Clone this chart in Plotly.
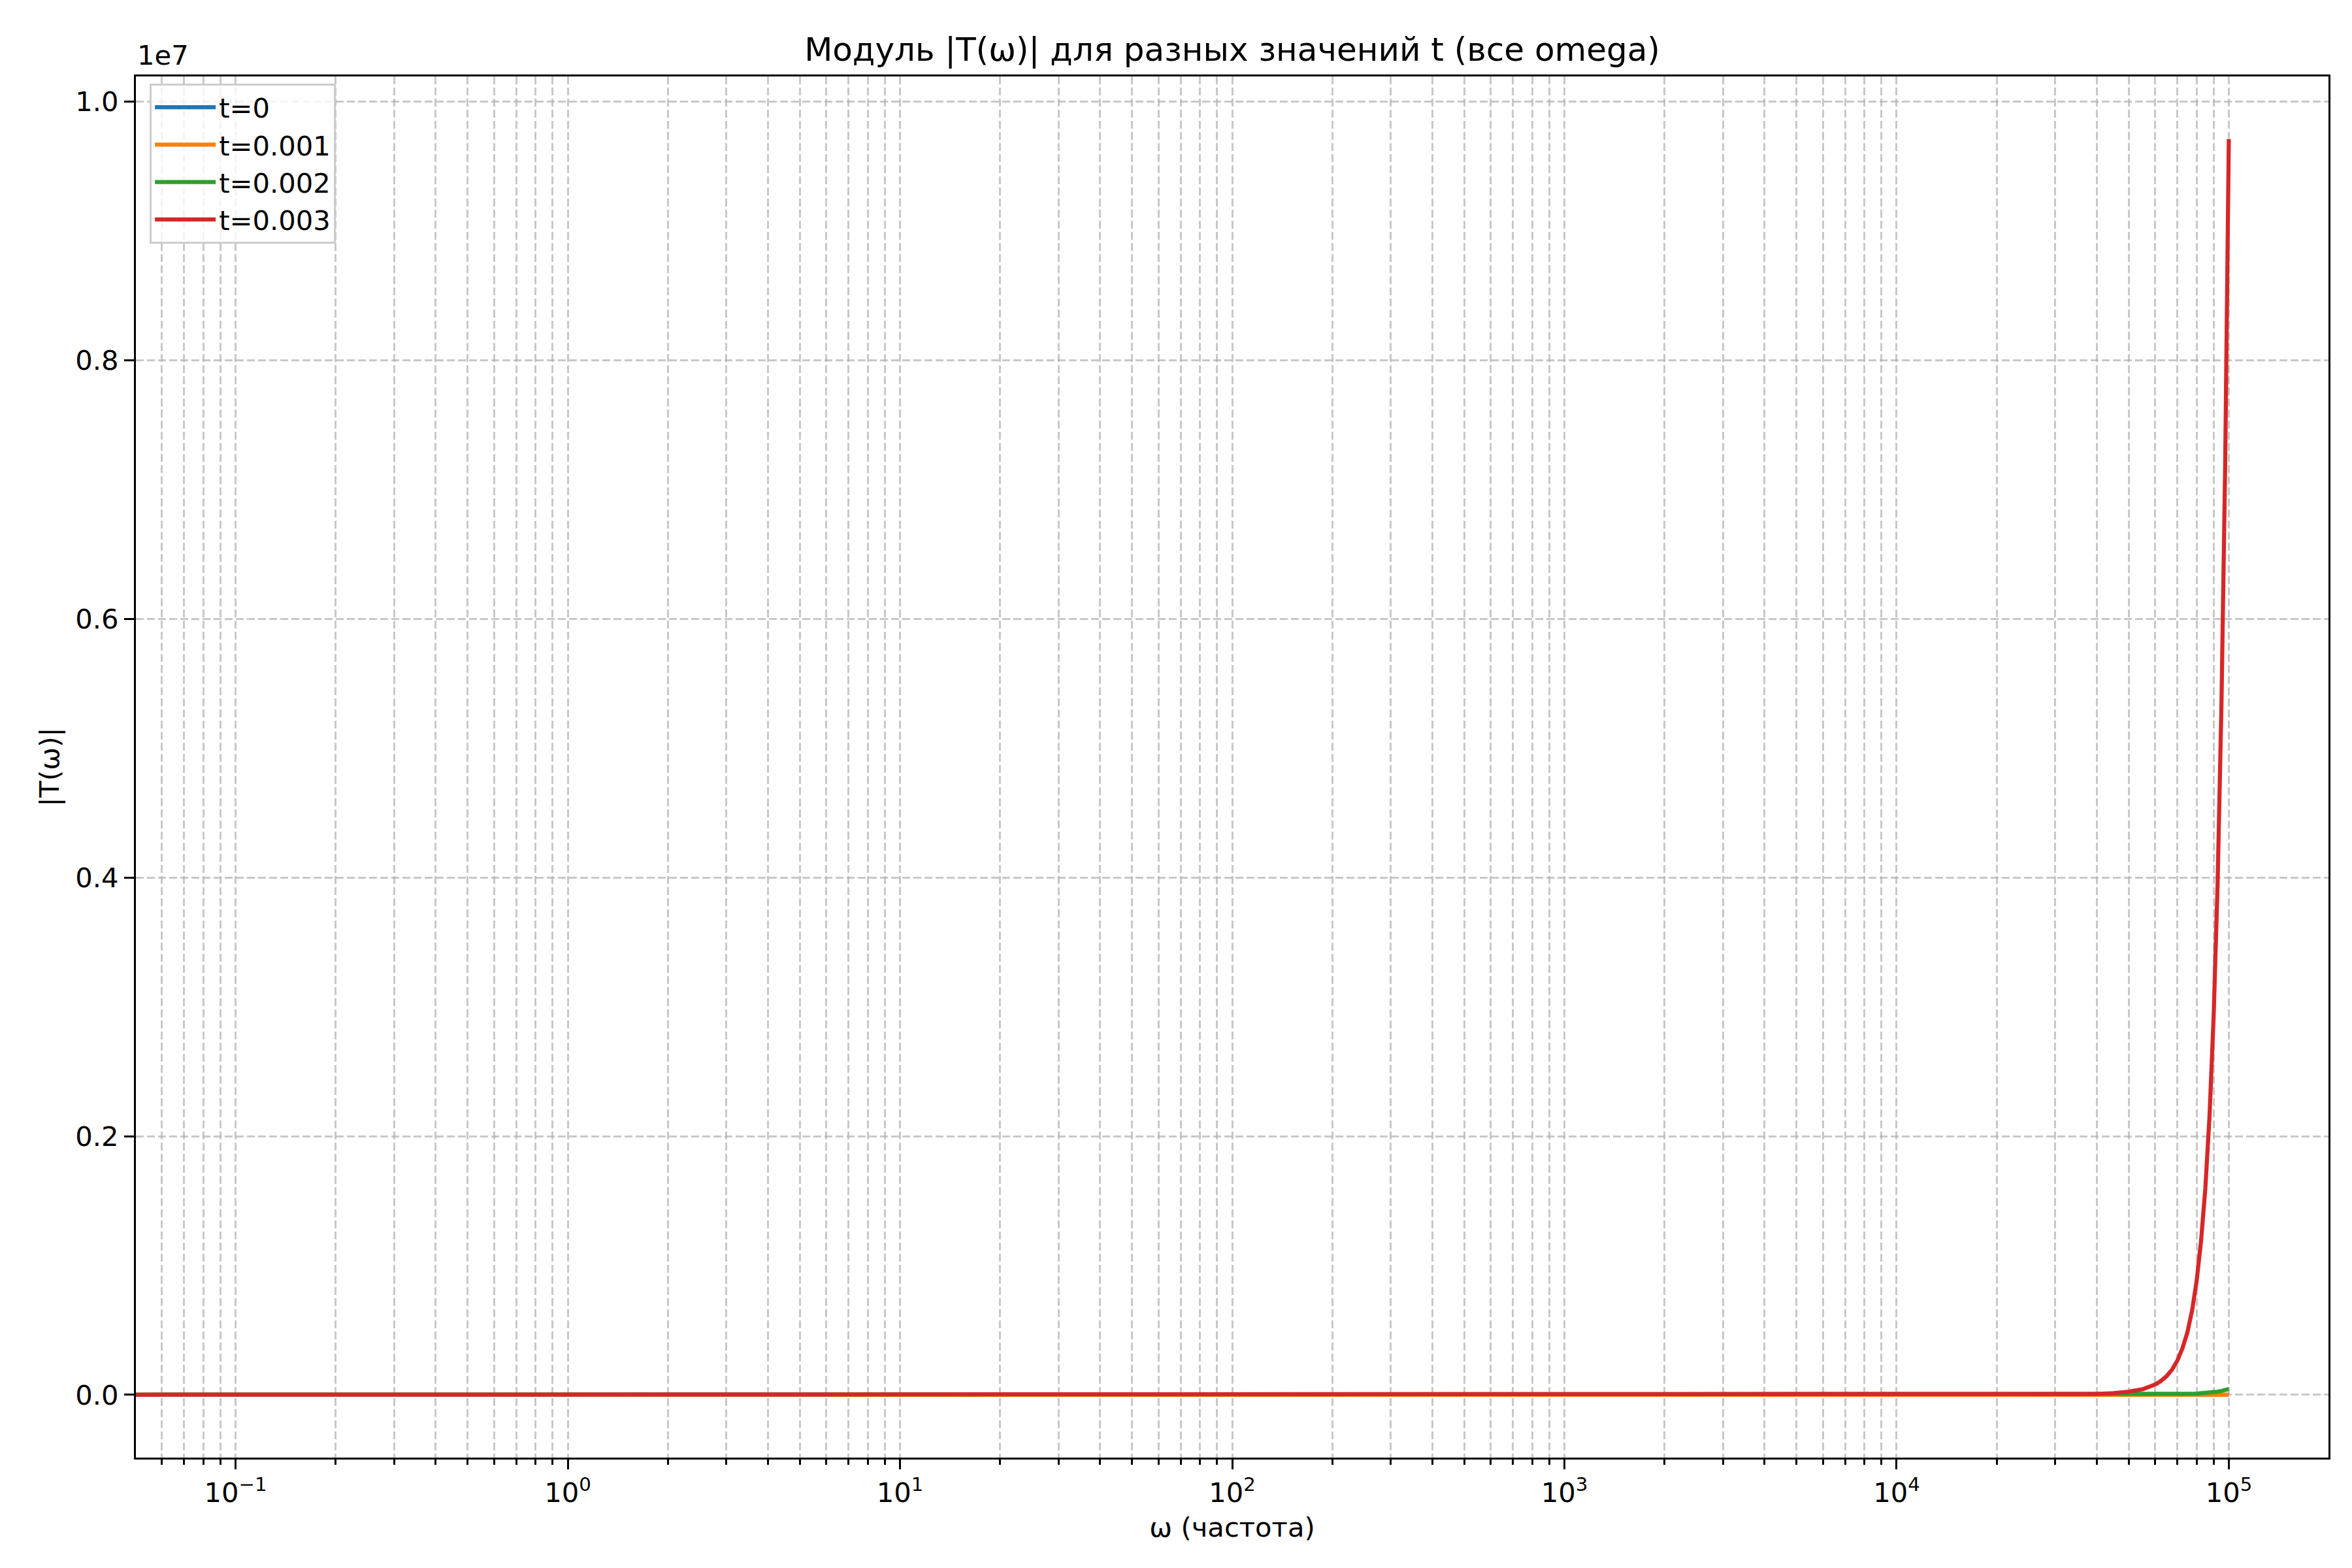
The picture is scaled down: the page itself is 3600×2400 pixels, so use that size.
import plotly.graph_objects as go

# omega samples (flat part + rising tail)
omega = [0.01, 1e4, 2e4, 3e4, 4e4, 45000, 50000, 55000, 60000, 62500, 65000,
         67500, 70000, 72500, 75000, 77500, 80000, 82500, 85000, 87500, 90000,
         92500, 95000, 97500, 100000]

t0 = [1] * len(omega)
t001 = [1, 6, 9, 13, 19, 23, 28, 34, 42, 46, 52, 57, 63, 70, 78, 86, 96,
        106, 117, 130, 144, 159, 176, 194, 215]
t002 = [1, 32, 72, 160, 360, 540, 810, 1200, 1800, 2200, 2700, 3300, 4000,
        4900, 6000, 7300, 9000, 11000, 13400, 16400, 20000, 24500, 30000,
        36500, 45000]
t003 = [50, 190, 630, 2100, 7100, 13000, 24000, 43000, 79000, 107000, 145000,
        196000, 265000, 360000, 480000, 650000, 880000, 1190000, 1600000,
        2160000, 2920000, 3940000, 5320000, 7180000, 9710000]

names = ["t=0", "t=0.001", "t=0.002", "t=0.003"]
colors = ["#1f77b4", "#ff7f0e", "#2ca02c", "#d62728"]

x_ticks = [0.1, 1, 10, 100, 1000, 10000, 100000]
x_labels = ["10<sup>\u22121</sup>", "10<sup>0</sup>", "10<sup>1</sup>",
            "10<sup>2</sup>", "10<sup>3</sup>", "10<sup>4</sup>", "10<sup>5</sup>"]
y_ticks = [0, 2e6, 4e6, 6e6, 8e6, 1e7]
y_labels = ["0.0", "0.2", "0.4", "0.6", "0.8", "1.0"]

# minor log ticks 2..9 in each decade
minor_vals = [m * 10 ** e for e in range(-2, 5) for m in range(2, 10)]

fig = go.Figure()
for ys, name, c in zip([t0, t001, t002, t003], names, colors):
    fig.add_trace(go.Scatter(x=omega, y=ys, mode="lines", name=name,
                             line=dict(color=c, width=6.25)))

ymax = max(t003)
pad = 0.05 * ymax

grid_col = "rgba(176,176,176,0.7)"
dash = "12px,5px"
fs = 41.7

fig.update_layout(
    width=3600, height=2400,
    margin=dict(l=200, r=44, t=109, b=177),
    paper_bgcolor="white", plot_bgcolor="white",
    font=dict(family="DejaVu Sans", size=fs, color="black"),
    title=dict(text="Модуль |T(ω)| для разных значений t (все omega)",
               x=0.5, xref="paper", xanchor="center",
               y=0.972, yanchor="middle", font=dict(size=50)),
    showlegend=True,
    legend=dict(x=0.0063, y=0.995, xanchor="left", yanchor="top",
                bgcolor="rgba(255,255,255,0.8)", bordercolor="#cccccc",
                borderwidth=3, font=dict(size=fs), itemwidth=93,
                tracegroupgap=0),
    xaxis=dict(
        type="log", range=[-1.3, 5.3],
        tickmode="array", tickvals=x_ticks, ticktext=x_labels,
        ticks="outside", ticklen=15, tickwidth=3.3, tickcolor="black",
        showline=True, linewidth=3.3, linecolor="black", mirror=True,
        showgrid=True, gridcolor=grid_col, gridwidth=3.3, griddash=dash,
        zeroline=False,
        minor=dict(tickmode="array", tickvals=minor_vals, ticks="outside",
                   ticklen=8, tickwidth=2.5, tickcolor="black",
                   showgrid=True, gridcolor=grid_col, gridwidth=3.3,
                   griddash=dash),
        title=dict(text="ω (частота)", standoff=15, font=dict(size=fs)),
    ),
    yaxis=dict(
        range=[-pad, ymax + pad],
        tickmode="array", tickvals=y_ticks, ticktext=y_labels,
        ticks="outside", ticklen=15, tickwidth=3.3, tickcolor="black",
        showline=True, linewidth=3.3, linecolor="black", mirror=True,
        showgrid=True, gridcolor=grid_col, gridwidth=3.3, griddash=dash,
        zeroline=False,
        title=dict(text="|T(ω)|", standoff=12, font=dict(size=fs)),
    ),
)

fig.add_annotation(text="1e7", x=0, y=1, xref="paper", yref="paper",
                   xanchor="left", yanchor="bottom", yshift=6,
                   showarrow=False, font=dict(size=fs))

fig.write_html("out.html")
